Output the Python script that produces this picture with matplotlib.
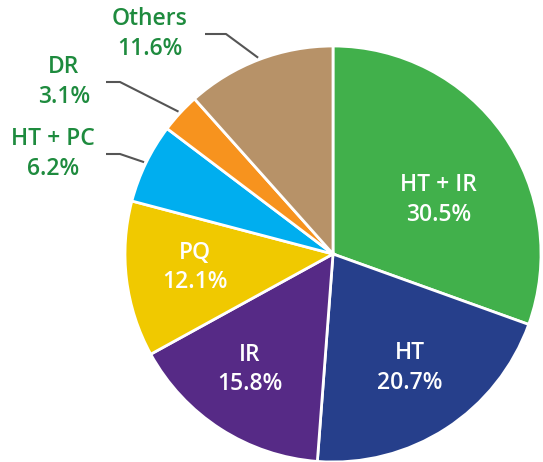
import numpy as np
import matplotlib
matplotlib.use("Agg")
import matplotlib.pyplot as plt

# ---------- data -----------------------------------------------------------
labels = ["HT + IR", "HT", "IR", "PQ", "HT + PC", "DR", "Others"]
shares = [30.5, 20.7, 15.8, 12.1, 6.2, 3.1, 11.6]
colors = ["#41B04B", "#263F8B", "#562A86", "#F0C900", "#00AEEF", "#F7931E", "#B79268"]
outside = [False, False, False, False, True, True, True]

TEXT_GREEN = "#1E8B3E"
W, H = 543, 462
CX, CY, R = 333, 208, 208

plt.rcParams["font.family"] = ["Open Sans", "DejaVu Sans"]

fig = plt.figure(figsize=(W / 100, H / 100), dpi=100)
ax = fig.add_axes([0, 0, 1, 1])

wedges, _ = ax.pie(shares, colors=colors, startangle=90, counterclock=False,
                   center=(CX, CY), radius=R, frame=True,
                   wedgeprops=dict(edgecolor="white", linewidth=2))
ax.set_xlim(0, W)
ax.set_ylim(0, H)
ax.set_aspect("equal")
ax.axis("off")

# inside labels: (distance as fraction of R, angle nudge in degrees)
inside_pos = {"HT + IR": (0.57, -8), "HT": (0.66, 1), "IR": (0.685, -3), "PQ": (0.667, -1.5)}
# outside labels: text centre and line start/elbow x (pixels from left/top)
outside_pos = {"Others": (150, 34, 205, 226), "DR": (64, 82, 106, 120),
               "HT + PC": (53, 154, 106, 120)}

for w, lab, val, out in zip(wedges, labels, shares, outside):
    mid = np.deg2rad((w.theta1 + w.theta2) / 2)
    txt = f"{lab}\n{val:.1f}%"
    if not out:
        d, nudge = inside_pos[lab]
        a = mid + np.deg2rad(nudge)
        ax.text(CX + d * R * np.cos(a), CY + d * R * np.sin(a), txt,
                ha="center", va="center", color="white", fontsize=16.5,
                fontweight="semibold", linespacing=1.3)
    else:
        tx, ty, x0, x1 = outside_pos[lab]
        ex, ey = CX + 1.01 * R * np.cos(mid), CY + 1.01 * R * np.sin(mid)
        ly = H - ty
        ax.plot([x0, x1, ex], [ly, ly, ey], color="#555555", lw=1.5,
                solid_capstyle="butt")
        ax.text(tx, H - ty, txt, ha="center", va="center", color=TEXT_GREEN,
                fontsize=16.5, fontweight="semibold", linespacing=1.3)

fig.savefig("out.png", dpi=100)
